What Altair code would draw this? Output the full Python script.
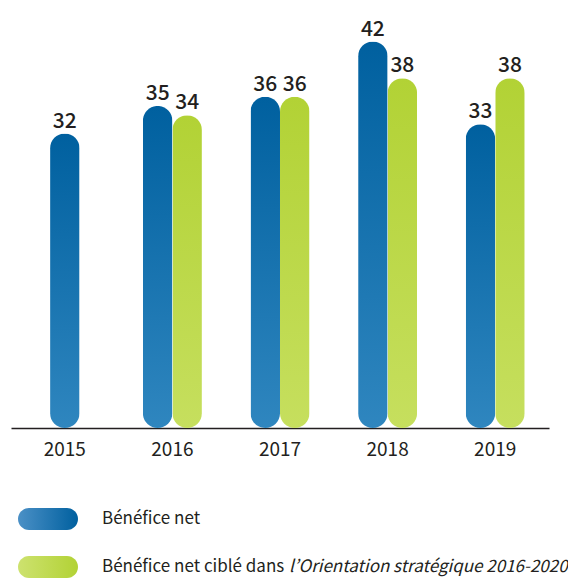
import altair as alt
import pandas as pd

years = ["2015", "2016", "2017", "2018", "2019"]
benefice = [32, 35, 36, 42, 33]
cible = [None, 34, 36, 38, 38]
series_names = ["Bénéfice net", "Bénéfice net ciblé"]
legend_normal = ["Bénéfice net", "Bénéfice net ciblé dans "]
legend_italic = ["", "l’Orientation stratégique 2016-2020"]

rows = []
for y, b, c in zip(years, benefice, cible):
    solo = c is None
    rows.append({"year": y, "series": series_names[0], "value": b, "solo": solo})
    if c is not None:
        rows.append({"year": y, "series": series_names[1], "value": c, "solo": solo})
df = pd.DataFrame(rows)

leg = pd.DataFrame({"key": series_names, "normal": legend_normal, "italic": legend_italic})

TXT = "#231f20"
FONT = "Noto Sans CJK JP"

blue_v = alt.LinearGradient(gradient="linear", x1=0, x2=0, y1=0, y2=1,
                            stops=[alt.GradientStop(color="#00609f", offset=0),
                                   alt.GradientStop(color="#2f86bf", offset=1)])
green_v = alt.LinearGradient(gradient="linear", x1=0, x2=0, y1=0, y2=1,
                             stops=[alt.GradientStop(color="#b2d235", offset=0),
                                    alt.GradientStop(color="#c6df5e", offset=1)])
blue_h = alt.LinearGradient(gradient="linear", x1=0, x2=1, y1=0, y2=0,
                            stops=[alt.GradientStop(color="#4b90c6", offset=0),
                                   alt.GradientStop(color="#00609f", offset=1)])
green_h = alt.LinearGradient(gradient="linear", x1=0, x2=1, y1=0, y2=0,
                             stops=[alt.GradientStop(color="#cde26f", offset=0),
                                    alt.GradientStop(color="#b2d235", offset=1)])

x_enc = alt.X("year:N", scale=alt.Scale(domain=years, paddingInner=0, paddingOuter=0),
              axis=alt.Axis(title=None, labelAngle=0, ticks=False, tickSize=0, grid=False,
                            domainColor=TXT, domainWidth=1.5, labelFont=FONT,
                            labelFontSize=19, labelColor=TXT, labelPadding=27,
                            labelBaseline="alphabetic"))
y_enc = alt.Y("value:Q", scale=alt.Scale(domain=[0, 45.1], nice=False), axis=None)
off_enc = alt.XOffset("series:N", scale=alt.Scale(domain=series_names, paddingInner=0, paddingOuter=0.824))

base = alt.Chart(df)
pairs = base.transform_filter("!datum.solo")
solo = base.transform_filter("datum.solo")

blue_bars = pairs.transform_filter(alt.datum.series == series_names[0]).mark_bar(
    cornerRadius=15, color=blue_v).encode(x=x_enc, xOffset=off_enc, y=y_enc)
green_bars = pairs.transform_filter(alt.datum.series == series_names[1]).mark_bar(
    cornerRadius=15, color=green_v).encode(x=x_enc, xOffset=off_enc, y=y_enc)
solo_bars = solo.mark_bar(cornerRadius=15, color=blue_v,
                          width=alt.RelativeBandSize(0.274)).encode(x=x_enc, y=y_enc)

txt_kw = dict(font=FONT, fontSize=21, fontWeight=500, color=TXT, baseline="alphabetic", dy=-6)
pair_text = pairs.mark_text(**txt_kw).encode(x=x_enc, xOffset=off_enc, y=y_enc, text="value:Q")
solo_text = solo.mark_text(**txt_kw).encode(x=x_enc, y=y_enc, text="value:Q")

main = alt.layer(blue_bars, green_bars, solo_bars, pair_text, solo_text).properties(width=538, height=415)

ly = alt.Y("key:N", scale=alt.Scale(domain=series_names, paddingInner=0.542, paddingOuter=0), axis=None)
lbase = alt.Chart(leg)
pill_b = lbase.transform_filter(alt.datum.key == series_names[0]).mark_bar(
    cornerRadius=11, color=blue_h).encode(x=alt.value(7), x2=alt.value(67), y=ly)
pill_g = lbase.transform_filter(alt.datum.key == series_names[1]).mark_bar(
    cornerRadius=11, color=green_h).encode(x=alt.value(7), x2=alt.value(67), y=ly)
ltxt = lbase.mark_text(align="left", baseline="middle", font=FONT, fontSize=17, color=TXT).encode(
    x=alt.value(91), y=ly, text="normal:N")
litx = lbase.mark_text(align="left", baseline="middle", font=FONT, fontSize=17, color=TXT,
                       fontStyle="italic").encode(x=alt.value(278), y=ly, text="italic:N")
legend = alt.layer(pill_b, pill_g, ltxt, litx).properties(width=538, height=70)

chart = alt.vconcat(main, legend, spacing=49).properties(
    padding={"left": 3, "top": 5, "right": 0, "bottom": 0}
).configure_view(stroke=None)

chart.save("out.html", embed_options={"renderer": "svg", "actions": False})
